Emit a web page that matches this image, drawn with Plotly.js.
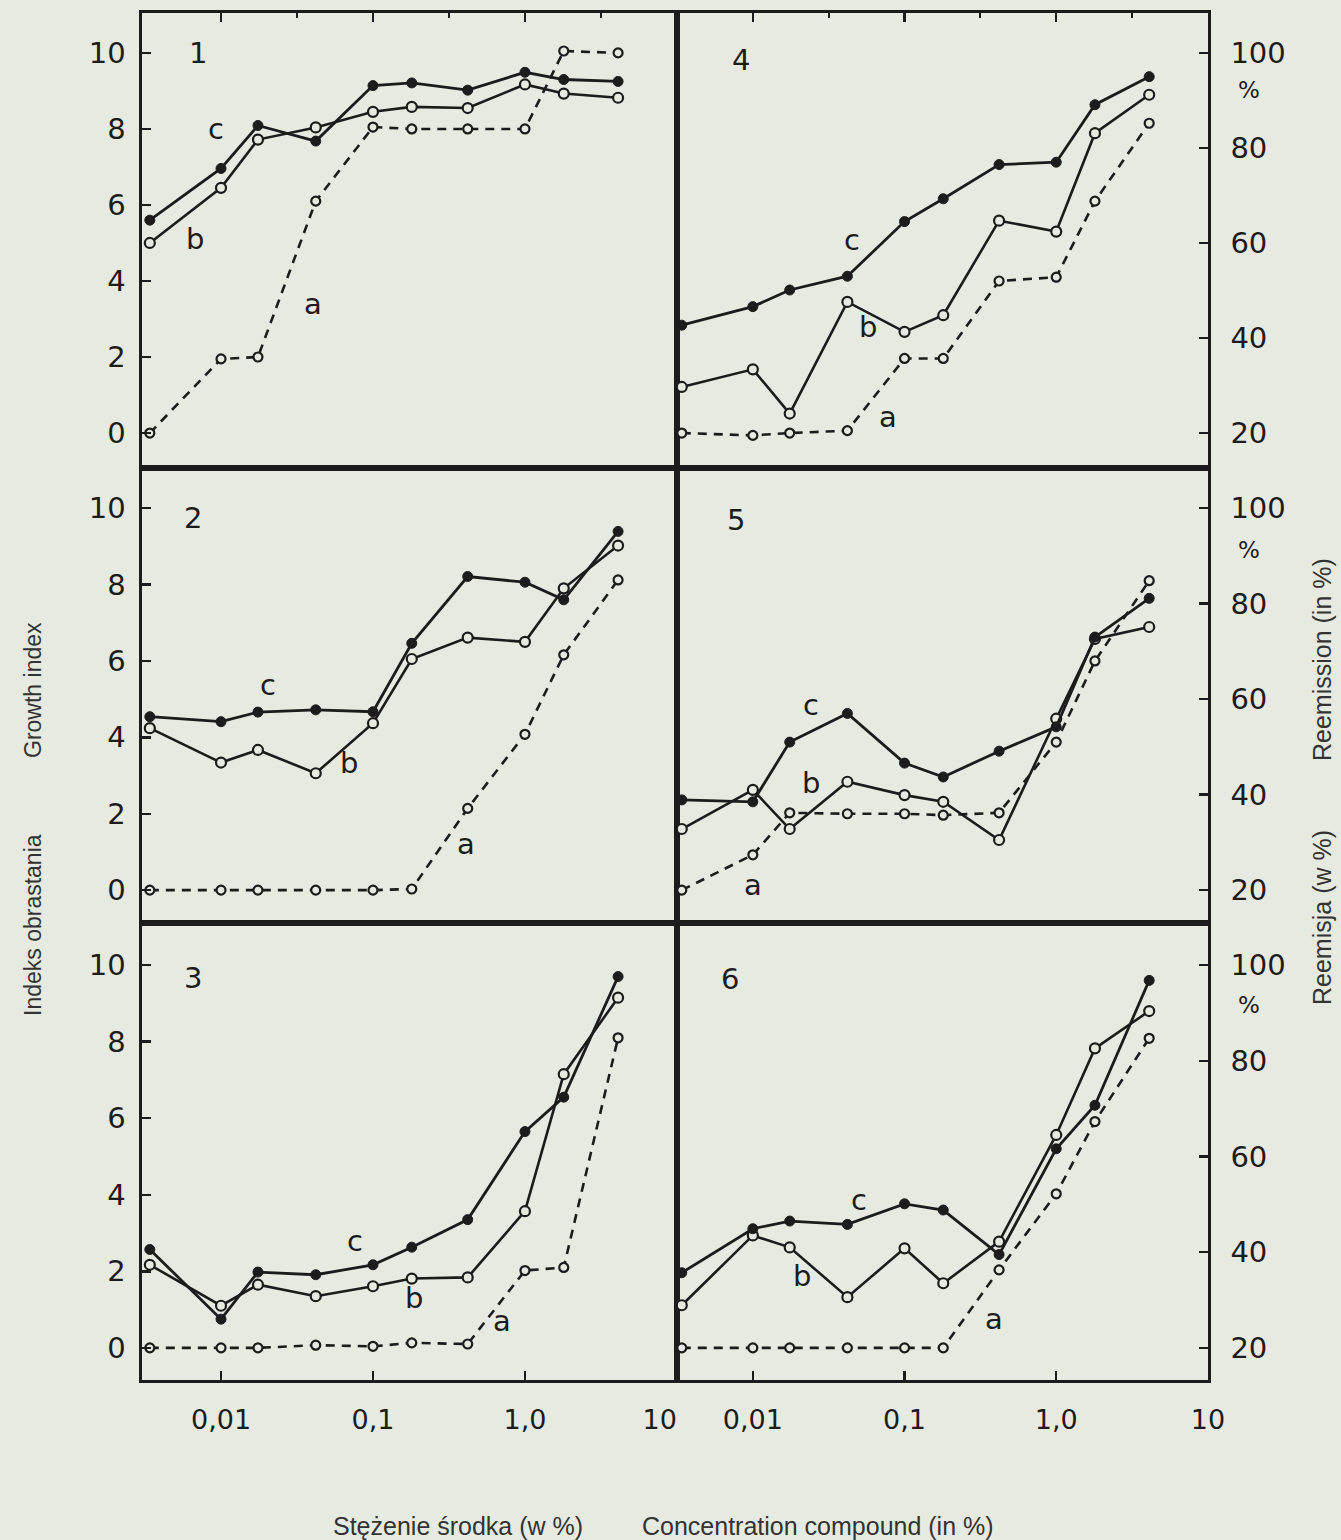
<!DOCTYPE html>
<html>
<head>
<meta charset="utf-8">
<script src="https://cdn.plot.ly/plotly-3.0.1.min.js"></script>
<style>
html,body{margin:0;padding:0;background:#e7eae1;}
#chart{width:1341px;height:1540px;}
</style>
</head>
<body>
<div id="chart"></div>
<script>
// ---------- DATA ----------
// Concentration of compound (in %), common to all panels
const concentration = [0.0034, 0.01, 0.0175, 0.042, 0.1, 0.18, 0.42, 1.0, 1.8, 4.1];

// Left column: Growth index (Indeks obrastania)
const panel1_a = [0, 1.95, 2.0, 6.1, 8.05, 8.0, 8.0, 8.0, 10.05, 10.0];
const panel1_b = [5.0, 6.45, 7.72, 8.04, 8.45, 8.58, 8.55, 9.17, 8.93, 8.82];
const panel1_c = [5.6, 6.96, 8.09, 7.68, 9.14, 9.21, 9.02, 9.49, 9.3, 9.25];

const panel2_a = [0, 0, 0, 0, 0, 0.03, 2.14, 4.08, 6.16, 8.12];
const panel2_b = [4.24, 3.34, 3.67, 3.06, 4.37, 6.05, 6.61, 6.5, 7.9, 9.02];
const panel2_c = [4.54, 4.41, 4.66, 4.72, 4.67, 6.46, 8.21, 8.06, 7.6, 9.39];

const panel3_a = [0, 0, 0, 0.07, 0.04, 0.13, 0.1, 2.02, 2.1, 8.1];
const panel3_b = [2.17, 1.1, 1.65, 1.35, 1.61, 1.81, 1.84, 3.57, 7.15, 9.15];
const panel3_c = [2.57, 0.75, 1.98, 1.91, 2.17, 2.63, 3.35, 5.65, 6.55, 9.7];

// Right column: Reemission (Reemisja, in %)
const panel4_a = [20, 19.5, 20, 20.5, 35.7, 35.7, 52, 52.8, 68.8, 85.2];
const panel4_b = [29.7, 33.4, 24.1, 47.6, 41.3, 44.8, 64.7, 62.4, 83.1, 91.2];
const panel4_c = [42.7, 46.6, 50.1, 53.0, 64.5, 69.3, 76.5, 77.0, 89.1, 95.0];

const panel5_a = [20, 27.4, 36.2, 36, 36, 35.7, 36.2, 51, 68, 84.8];
const panel5_b = [32.8, 41, 32.8, 42.7, 39.9, 38.5, 30.5, 55.9, 72.6, 75.1];
const panel5_c = [38.9, 38.5, 51, 57, 46.6, 43.7, 49.1, 54.2, 73, 81.1];

const panel6_a = [20, 20, 20, 20, 20, 20, 36.3, 52.2, 67.3, 84.7];
const panel6_b = [28.9, 43.5, 41, 30.6, 40.8, 33.5, 42.2, 64.5, 82.6, 90.4];
const panel6_c = [35.7, 44.9, 46.5, 45.8, 50.1, 48.8, 39.5, 61.6, 70.7, 96.8];

// Tick labels
const xTickVals = [0.01, 0.1, 1, 10];
const xTickTextLeft = ['0,01', '0,1', '1,0', '10\u00a0\u00a0\u00a0\u00a0'];
const xTickTextRight = ['0,01', '0,1', '1,0', '10'];
const xMinorVals = [0.0316, 0.316, 3.16];
const growthTicks = [0, 2, 4, 6, 8, 10];
const reemissionTicks = [20, 40, 60, 80, 100];

// Series labels placed next to curves: [panel, text, concentration, value]
const curveLabels = [
  [1, '1', 0.0071, 10.0], [1, 'c', 0.0092, 8.0], [1, 'b', 0.0067, 5.1], [1, 'a', 0.040, 3.4],
  [2, '2', 0.0065, 9.74], [2, 'c', 0.0205, 5.37], [2, 'b', 0.069, 3.32], [2, 'a', 0.41, 1.22],
  [3, '3', 0.0065, 9.65], [3, 'c', 0.076, 2.78], [3, 'b', 0.185, 1.3], [3, 'a', 0.71, 0.7],
  [4, '4', 0.0083, 98.6], [4, 'c', 0.045, 60.6], [4, 'b', 0.057, 42.4], [4, 'a', 0.078, 23.4],
  [5, '5', 0.0078, 97.5], [5, 'c', 0.024, 58.7], [5, 'b', 0.024, 42.4], [5, 'a', 0.010, 21.0],
  [6, '6', 0.0071, 97.1], [6, 'c', 0.05, 51.0], [6, 'b', 0.021, 35.0], [6, 'a', 0.39, 26.0]
];

// ---------- STYLE ----------
const BG = '#e7eae1';
const INK = '#1c1c1c';
const NUMFONT = 'DejaVu Sans, sans-serif';
const CAPFONT = 'Liberation Sans, Arial, sans-serif';

const panels = [
  {id: 1, a: panel1_a, b: panel1_b, c: panel1_c},
  {id: 2, a: panel2_a, b: panel2_b, c: panel2_c},
  {id: 3, a: panel3_a, b: panel3_b, c: panel3_c},
  {id: 4, a: panel4_a, b: panel4_b, c: panel4_c},
  {id: 5, a: panel5_a, b: panel5_b, c: panel5_c},
  {id: 6, a: panel6_a, b: panel6_b, c: panel6_c}
];

const traces = [];
panels.forEach(p => {
  const xa = p.id === 1 ? 'x' : 'x' + p.id;
  const ya = p.id === 1 ? 'y' : 'y' + p.id;
  traces.push({
    x: concentration, y: p.a, xaxis: xa, yaxis: ya, type: 'scatter', mode: 'lines+markers',
    line: {color: INK, width: 2.6, dash: '9px,7px'},
    marker: {symbol: 'circle', size: 9, color: BG, line: {color: INK, width: 2.2}},
    showlegend: false, cliponaxis: false
  });
  traces.push({
    x: concentration, y: p.b, xaxis: xa, yaxis: ya, type: 'scatter', mode: 'lines+markers',
    line: {color: INK, width: 2.6},
    marker: {symbol: 'circle', size: 10, color: BG, line: {color: INK, width: 2.2}},
    showlegend: false, cliponaxis: false
  });
  traces.push({
    x: concentration, y: p.c, xaxis: xa, yaxis: ya, type: 'scatter', mode: 'lines+markers',
    line: {color: INK, width: 2.8},
    marker: {symbol: 'circle', size: 10, color: INK, line: {color: INK, width: 1}},
    showlegend: false, cliponaxis: false
  });
});

// ---------- LAYOUT ----------
const W = 1341, H = 1540;
const colX = [[142 / W, 677 / W], [677 / W, 1208 / W]];
const rowY = [[1 - 468 / H, 1 - 13 / H], [1 - 923 / H, 1 - 468 / H], [1 - 1380 / H, 1 - 923 / H]];
const growthRanges = [[-0.92, 11.05], [-0.86, 11.05], [-0.84, 11.1]];
const xRanges = [[-2.52, 1.0005], [-2.5, 1.0005]];

const layout = {
  width: W, height: H,
  margin: {l: 0, r: 0, t: 0, b: 0},
  paper_bgcolor: BG, plot_bgcolor: BG,
  showlegend: false,
  font: {family: NUMFONT, color: INK},
  annotations: []
};

for (let i = 0; i < 6; i++) {
  const id = i + 1;
  const col = i < 3 ? 0 : 1;
  const row = i % 3;
  const xk = id === 1 ? 'xaxis' : 'xaxis' + id;
  const yk = id === 1 ? 'yaxis' : 'yaxis' + id;
  const xa = id === 1 ? 'x' : 'x' + id;
  const ya = id === 1 ? 'y' : 'y' + id;
  const gr = growthRanges[row];
  const xAxis = {
    domain: colX[col], anchor: ya, type: 'log', range: xRanges[col],
    showline: true, mirror: true, linewidth: 2.6, linecolor: INK,
    showgrid: false, zeroline: false, fixedrange: true,
    tickvals: xTickVals, ticktext: col === 0 ? xTickTextLeft : xTickTextRight,
    tickcolor: INK, tickwidth: 2.4, ticklen: 9
  };
  if (row === 0) {
    xAxis.side = 'top'; xAxis.ticks = 'inside'; xAxis.showticklabels = false;
    xAxis.minor = {tickvals: xMinorVals, ticks: 'inside', ticklen: 5, tickwidth: 2, tickcolor: INK};
  } else if (row === 1) {
    xAxis.ticks = ''; xAxis.showticklabels = false;
  } else {
    xAxis.side = 'bottom'; xAxis.ticks = 'inside'; xAxis.showticklabels = true;
    xAxis.tickfont = {family: NUMFONT, size: 27, color: INK};
    xAxis.ticklabelstandoff = 14;
  }
  layout[xk] = xAxis;

  const yAxis = {
    domain: rowY[row], anchor: xa,
    showline: true, mirror: true, linewidth: 2.6, linecolor: INK,
    showgrid: false, zeroline: false, fixedrange: true,
    ticks: 'inside', ticklen: 9, tickwidth: 2.4, tickcolor: INK,
    tickfont: {family: NUMFONT, size: 29, color: INK}
  };
  if (col === 0) {
    yAxis.side = 'left';
    yAxis.range = gr;
    yAxis.tickvals = growthTicks;
    yAxis.ticklabelstandoff = 8;
  } else {
    yAxis.side = 'right';
    yAxis.range = [20 + 8 * gr[0], 20 + 8 * gr[1]];
    yAxis.tickvals = reemissionTicks;
    yAxis.ticklabelstandoff = 14;
  }
  layout[yk] = yAxis;
}

// curve and panel labels
curveLabels.forEach(([pid, txt, cx, val]) => {
  layout.annotations.push({
    xref: pid === 1 ? 'x' : 'x' + pid, yref: pid === 1 ? 'y' : 'y' + pid,
    x: Math.log10(cx), y: val, text: txt, showarrow: false,
    font: {family: NUMFONT, size: 29, color: INK},
    xanchor: 'center', yanchor: 'middle'
  });
});

// "%" marks under the 100 label on the right axes
[90, 550, 1005].forEach(py => {
  layout.annotations.push({
    xref: 'paper', yref: 'paper', x: 1249 / W, y: 1 - py / H,
    text: '%', showarrow: false, font: {family: NUMFONT, size: 23, color: INK},
    xanchor: 'center', yanchor: 'middle'
  });
});

// axis captions
const cap = (text, px, py, angle, size) => ({
  xref: 'paper', yref: 'paper', x: px / W, y: 1 - py / H, text: text, showarrow: false,
  textangle: angle, font: {family: CAPFONT, size: size, color: '#333333'},
  xanchor: 'center', yanchor: 'middle'
});
layout.annotations.push(cap('Growth index', 33, 690, -90, 23));
layout.annotations.push(cap('Indeks obrastania', 33, 925, -90, 23));
layout.annotations.push(cap('Reemission (in %)', 1322, 660, -90, 25));
layout.annotations.push(cap('Reemisja (w %)', 1322, 918, -90, 25));
layout.annotations.push(cap('Stężenie środka (w %)', 458, 1526, 0, 25));
layout.annotations.push(cap('Concentration compound (in %)', 818, 1526, 0, 25));

Plotly.newPlot('chart', traces, layout, {displayModeBar: false, staticPlot: true});
</script>
</body>
</html>
